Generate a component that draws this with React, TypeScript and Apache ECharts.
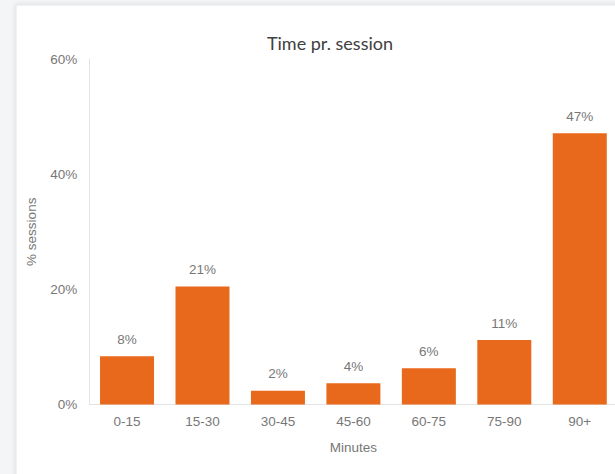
import React, { useEffect, useRef } from "react";
import * as echarts from "echarts";

const categories = ["0-15", "15-30", "30-45", "45-60", "60-75", "75-90", "90+"];
const sessionShare = [8.4, 20.5, 2.4, 3.7, 6.3, 11.2, 47.1];
const yTicks = { min: 0, max: 60, interval: 20 };

const titleText = "Time pr. session";
const xName = "Minutes";
const yName = "% sessions";

export default function App() {
  const ref = useRef<HTMLDivElement>(null);

  useEffect(() => {
    document.body.style.margin = "0";
    const chart = echarts.init(ref.current!, undefined, { renderer: "svg" });
    const labelFont = "'Liberation Sans', Arial, sans-serif";
    const fs = 13.5;
    chart.setOption({
      animation: false,
      backgroundColor: "#f4f5f7",
      graphic: [
        {
          type: "rect",
          z: -10,
          shape: { x: 16, y: 5, width: 620, height: 490 },
          style: {
            fill: "#ffffff",
            stroke: "#e4e6ea",
            lineWidth: 1,
            shadowBlur: 4,
            shadowColor: "rgba(0,0,0,0.12)",
          },
        },
      ],
      title: {
        text: titleText,
        left: 325,
        top: 29,
        textAlign: "center",
        textStyle: {
          fontFamily: "Lato, 'Open Sans', sans-serif",
          fontSize: 18,
          fontWeight: "normal",
          color: "#404040",
        },
      },
      grid: {
        left: 89.3,
        right: -2.5,
        top: 59,
        bottom: 69.5,
        containLabel: false,
        outerBoundsMode: "none",
      },
      xAxis: {
        type: "category",
        data: categories,
        name: xName,
        nameLocation: "middle",
        nameGap: 36,
        nameTextStyle: { color: "#777", fontSize: fs, fontFamily: labelFont },
        axisTick: { show: false },
        axisLine: { lineStyle: { color: "#e3e3e3" } },
        axisLabel: { color: "#777", fontSize: fs, margin: 9.5, fontFamily: labelFont },
      },
      yAxis: {
        type: "value",
        min: yTicks.min,
        max: yTicks.max,
        interval: yTicks.interval,
        name: yName,
        nameLocation: "middle",
        nameGap: 51,
        nameTextStyle: { color: "#777", fontSize: fs, fontFamily: labelFont },
        axisLine: { show: true, lineStyle: { color: "#e3e3e3" } },
        axisTick: { show: false },
        splitLine: { show: false },
        axisLabel: {
          color: "#777",
          fontSize: fs,
          margin: 12,
          fontFamily: labelFont,
          formatter: "{value}%",
        },
      },
      series: [
        {
          type: "bar",
          data: sessionShare,
          barWidth: 54,
          itemStyle: { color: "#e8691b" },
          label: {
            show: true,
            position: "top",
            distance: 10,
            color: "#777",
            fontSize: fs,
            fontFamily: labelFont,
            formatter: (p: any) => Math.round(p.value) + "%",
          },
        },
      ],
    });
    return () => chart.dispose();
  }, []);

  return (
    <div
      ref={ref}
      style={{ position: "fixed", left: 0, top: 0, width: 615, height: 474 }}
    />
  );
}
